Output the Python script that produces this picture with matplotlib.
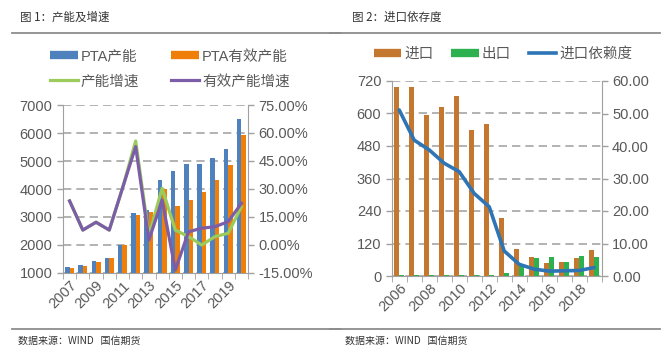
import matplotlib.pyplot as plt
import numpy as np
from matplotlib.lines import Line2D
from matplotlib.ticker import FuncFormatter, MultipleLocator

plt.rcParams['font.family'] = ['Liberation Sans', 'Noto Sans CJK SC', 'DejaVu Sans']

# capacity and growth (fig 1)
years1 = list(range(2007, 2021))
pta_cap = [1200, 1290, 1430, 1550, 2000, 3130, 3250, 4320, 4640, 4890, 4890, 5100, 5430, 6500]
pta_eff = [1170, 1260, 1405, 1525, 2000, 3070, 3170, 4000, 3390, 3600, 3900, 4320, 4860, 5930]
cap_growth = [23.6, 8.0, 12.2, 8.0, 30.4, 55.7, 5.0, 30.4, 8.0, 4.5, 0.0, 4.5, 6.3, 20.5]
eff_growth = [23.6, 8.0, 12.2, 8.0, 30.4, 52.7, 2.7, 24.0, -13.4, 7.1, 9.0, 9.8, 12.5, 22.3]

# import dependence (fig 2)
years2 = list(range(2006, 2020))
imports = [699, 699, 594, 625, 665, 539, 560, 213, 100, 71, 49, 53, 68, 96]
exports = [2, 3, 3, 3, 3, 3, 2, 12, 40, 65, 71, 53, 74, 71]
dependence = [51.1, 41.8, 38.8, 34.7, 32.1, 25.4, 21.3, 7.7, 3.6, 2.1, 1.5, 1.6, 1.7, 2.6]

W, H = 667, 349
fig = plt.figure(figsize=(W / 100, H / 100), dpi=100)

GRID = '#a6a6a6'
TXT = '#595959'
AX = '#a0a0a0'


def rect(x0, y0, x1, y1):
    return [x0 / W, 1 - y1 / H, (x1 - x0) / W, (y1 - y0) / H]


def style_axes(ax, ax2, n, years):
    ax.set_xlim(-0.5, n - 0.5)
    for a in (ax, ax2):
        for s in a.spines.values():
            s.set_visible(False)
        a.tick_params(colors=TXT, labelsize=10.5, length=4, color=AX, width=1)
    ax.spines['left'].set_visible(True)
    ax.spines['left'].set_color(AX)
    ax.spines['bottom'].set_visible(True)
    ax.spines['bottom'].set_color(AX)
    ax2.spines['right'].set_visible(True)
    ax2.spines['right'].set_color(AX)
    ax.yaxis.grid(True, color=GRID, linestyle=(0, (5, 3)), linewidth=1.2)
    ax.set_axisbelow(True)
    x = np.arange(n)
    ax.set_xticks(x[::2])
    ax.set_xticklabels([str(y) for y in years[::2]], rotation=45, ha='right',
                       rotation_mode='anchor')
    ax.tick_params(axis='x', length=0, pad=4)
    ax.set_xticks(np.arange(-0.5, n, 1), minor=True)
    ax.tick_params(axis='x', which='minor', length=4, color=AX)


# ---------- Figure 1 ----------
ax1 = fig.add_axes(rect(63, 105, 248, 273))
ax1b = ax1.twinx()
n1 = len(years1)
x1 = np.arange(n1)
bw = 0.34
ax1.bar(x1 - bw / 2, pta_cap, bw, color='#4f81bd', zorder=2)
ax1.bar(x1 + bw / 2, pta_eff, bw, color='#f07f09', zorder=2)
ax1.set_ylim(1000, 7000)
ax1.yaxis.set_major_locator(MultipleLocator(1000))
ax1b.plot(x1, cap_growth, color='#9bcb5a', lw=2.3, solid_joinstyle='round')
ax1b.plot(x1, eff_growth, color='#7b5ea7', lw=2.3, solid_joinstyle='round')
ax1b.set_ylim(-15, 75)
ax1b.yaxis.set_major_locator(MultipleLocator(15))
ax1b.yaxis.set_major_formatter(FuncFormatter(lambda v, p: f'{v:.2f}%'))
style_axes(ax1, ax1b, n1, years1)

# legend filled column by column: (PTA产能, 产能增速), (PTA有效产能, 有效产能增速)
h1 = [Line2D([], [], color='#4f81bd', lw=6, solid_capstyle='butt'),
      Line2D([], [], color='#9bcb5a', lw=2.3),
      Line2D([], [], color='#f07f09', lw=6, solid_capstyle='butt'),
      Line2D([], [], color='#7b5ea7', lw=2.3)]
fig.legend(h1, ['PTA产能', '产能增速', 'PTA有效产能', '有效产能增速'],
           loc='center', bbox_to_anchor=(170 / W, 1 - 69 / H), ncol=2,
           frameon=False, fontsize=10.5, handlelength=1.9, handletextpad=0.2,
           columnspacing=2.2, labelspacing=0.75, labelcolor=TXT)

# ---------- Figure 2 ----------
ax2 = fig.add_axes(rect(391.7, 81, 601.7, 276))
ax2b = ax2.twinx()
n2 = len(years2)
x2 = np.arange(n2)
bw2 = 0.33
ax2.bar(x2 - bw2 / 2, imports, bw2, color='#c4782f', zorder=2)
ax2.bar(x2 + bw2 / 2, exports, bw2, color='#2db14e', zorder=2)
ax2.set_ylim(0, 720)
ax2.yaxis.set_major_locator(MultipleLocator(120))
ax2b.plot(x2, dependence, color='#2e75b6', lw=2.6, solid_joinstyle='round',
          solid_capstyle='round')
ax2b.set_ylim(0, 60)
ax2b.yaxis.set_major_locator(MultipleLocator(10))
ax2b.yaxis.set_major_formatter(FuncFormatter(lambda v, p: f'{v:.2f}'))
style_axes(ax2, ax2b, n2, years2)

h2 = [Line2D([], [], color='#c4782f', lw=6, solid_capstyle='butt'),
      Line2D([], [], color='#2db14e', lw=6, solid_capstyle='butt'),
      Line2D([], [], color='#2e75b6', lw=2.6)]
fig.legend(h2, ['进口', '出口', '进口依赖度'],
           loc='center', bbox_to_anchor=(503 / W, 1 - 54 / H), ncol=3,
           frameon=False, fontsize=10.5, handlelength=1.9, handletextpad=0.2,
           columnspacing=1.2, labelcolor=TXT)

# ---------- titles, rules and sources ----------
cjk = ['Noto Sans CJK SC', 'DejaVu Sans']
fig.text(20 / W, 1 - 17 / H, '图 1：产能及增速', fontsize=8.3, color='#333333',
         va='center', family=cjk)
fig.text(352 / W, 1 - 17 / H, '图 2：进口依存度', fontsize=8.3, color='#333333',
         va='center', family=cjk)
fig.text(18 / W, 1 - 341 / H, '数据来源：WIND   国信期货', fontsize=7.2,
         color='#333333', va='center', family=cjk)
fig.text(345 / W, 1 - 341 / H, '数据来源：WIND   国信期货', fontsize=7.2,
         color='#333333', va='center', family=cjk)
for (xa, xb) in [(12, 340), (330, 660)]:
    for yy in (33, 329):
        fig.add_artist(Line2D([xa / W, xb / W], [1 - yy / H, 1 - yy / H],
                              color='#8c8c8c', lw=1.3))

fig.savefig('out.png', dpi=100)
